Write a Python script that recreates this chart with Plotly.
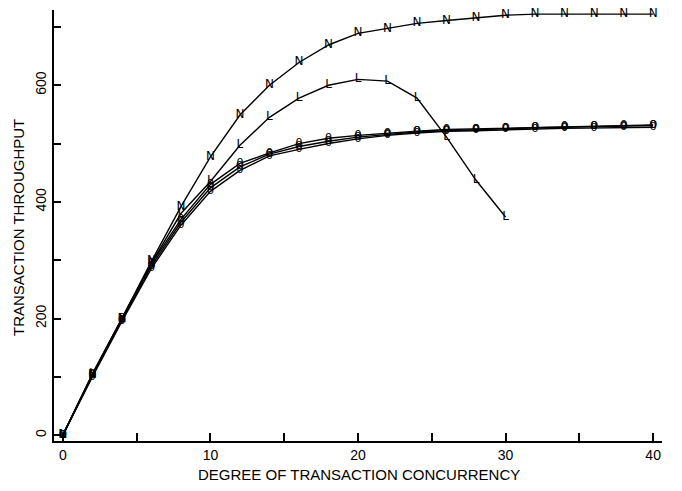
import plotly.graph_objects as go

x_full = [0, 2, 4, 6, 8, 10, 12, 14, 16, 18, 20, 22, 24, 26, 28, 30, 32, 34, 36, 38, 40]
x_l = [0, 2, 4, 6, 8, 10, 12, 14, 16, 18, 20, 22, 24, 26, 28, 30]

n_vals = [0, 104, 200, 298, 392, 477, 549, 600, 639, 669, 689, 697, 706, 711, 716, 720, 722, 722, 722, 722, 722]
l_vals = [0, 105, 200, 295, 380, 435, 497, 545, 578, 600, 610, 607, 578, 511, 437, 374]
a_vals = [0, 104, 200, 294, 370, 430, 466, 484, 500, 509, 514, 518, 521, 524, 525, 526, 528, 529, 530, 531, 532]
b_vals = [0, 102, 197, 290, 365, 424, 460, 482, 495, 504, 511, 516, 520, 522, 524, 526, 527, 528, 529, 530, 531]
c_vals = [0, 100, 195, 286, 360, 418, 454, 479, 490, 500, 508, 514, 518, 521, 522, 524, 525, 526, 527, 528, 528]

y_tickvals = [0, 100, 200, 300, 400, 500, 600, 700]
y_ticktext = ["0", "", "200", "", "400", "", "600", ""]
x_tickvals = [0, 5, 10, 15, 20, 25, 30, 35, 40]
x_ticktext = ["0", "", "10", "", "20", "", "30", "", "40"]

FONT = "Liberation Sans Narrow, Liberation Sans, Arial, sans-serif"

fig = go.Figure()

def add_series(xs, ys, letter, size=11):
    fig.add_trace(go.Scatter(
        x=xs, y=ys, mode="lines+text", text=[letter] * len(xs),
        textposition="middle center",
        textfont=dict(family="DejaVu Sans", size=size, color="black"),
        line=dict(color="black", width=1.4), showlegend=False,
        cliponaxis=False, hoverinfo="skip",
    ))

add_series(x_full, c_vals, "0", 11)
add_series(x_full, b_vals, "O", 10)
add_series(x_full, a_vals, "0", 11)
add_series(x_l, l_vals, "L", 12)
add_series(x_full, n_vals, "N", 12)

fig.update_layout(
    width=682, height=491,
    margin=dict(l=54, r=20, t=10, b=50),
    paper_bgcolor="white", plot_bgcolor="white",
    font=dict(family=FONT, size=13, color="black"),
    xaxis=dict(
        range=[-0.6, 40.6], tickvals=x_tickvals, ticktext=x_ticktext,
        ticks="inside", ticklen=8, tickwidth=1.5, tickcolor="black",
        showline=True, linecolor="black", linewidth=2,
        showgrid=False, zeroline=False,
        tickfont=dict(family=FONT, size=14),
    ),
    yaxis=dict(
        range=[-10, 729], tickvals=y_tickvals, ticktext=y_ticktext,
        ticks="inside", ticklen=7, tickwidth=1.5, tickcolor="black",
        showline=True, linecolor="black", linewidth=2,
        showgrid=False, zeroline=False, tickangle=-90,
        tickfont=dict(family=FONT, size=14),
    ),
    annotations=[
        dict(text="DEGREE OF TRANSACTION CONCURRENCY", xref="paper", yref="paper",
             x=(359 - 54) / 608, y=-(475 - 441) / 431, yanchor="middle", showarrow=False,
             font=dict(family=FONT, size=15)),
        dict(text="TRANSACTION THROUGHPUT", xref="paper", yref="paper",
             x=-(54 - 18) / 608, xanchor="center", y=(441 - 228) / 431, textangle=-90,
             showarrow=False, font=dict(family=FONT, size=15)),
    ],
)

fig.write_html("out.html", config={"displayModeBar": False},
               post_script="document.body.style.margin='0';")
